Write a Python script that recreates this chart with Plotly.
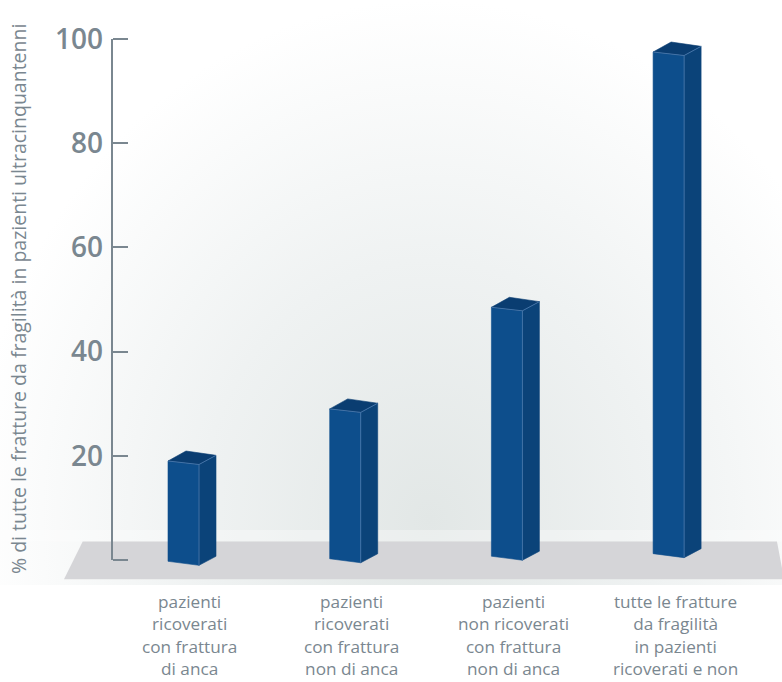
import numpy as np
import plotly.graph_objects as go

# ---- data ----
categories = [
    ["pazienti", "ricoverati", "con frattura", "di anca"],
    ["pazienti", "ricoverati", "con frattura", "non di anca"],
    ["pazienti", "non ricoverati", "con frattura", "non di anca"],
    ["tutte le fratture", "da fragilità", "in pazienti", "ricoverati e non"],
]
values = [19, 29, 48.5, 97.5]
tick_vals = [0, 20, 40, 60, 80, 100]
tick_text = ["", "20", "40", "60", "80", "100"]
y_title = "% di tutte le fratture da fragilità in pazienti ultracinquantenni"

# ---- layout geometry (pixels) ----
W, H = 782, 682
PLOT_TOP, PLOT_BOT = 0, 585
PX_PER_UNIT = 5.21
Y0_PX = 560
X0_PX = 183.5
X_STEP = 161.7
AXIS_X_PX = 112

y_lo = -(PLOT_BOT - Y0_PX) / PX_PER_UNIT
y_hi = (Y0_PX - PLOT_TOP) / PX_PER_UNIT
x_lo = -X0_PX / X_STEP
x_hi = (W - X0_PX) / X_STEP


def px2x(px):
    return (px - X0_PX) / X_STEP


def px2y(py):
    return (Y0_PX - py) / PX_PER_UNIT


def py2paper(py):
    return (PLOT_BOT - py) / (PLOT_BOT - PLOT_TOP)


GREY = "#7a8790"
FRONT = "#0d4e8c"
SIDE = "#0b4379"
TOP = "#0a3d71"
EDGE = "#4f7fb4"
FONT = "Open Sans, sans-serif"

fig = go.Figure()

# background radial glow
t = np.linspace(0, 2 * np.pi, 120)
cxp, cyp, rx, ry = 430, 520, 460, 520
ex = px2x(cxp + rx * np.cos(t))
ey = px2y(cyp + ry * np.sin(t))
fig.add_trace(go.Scatter(
    x=ex, y=ey, mode="lines", fill="toself", line=dict(width=0),
    fillgradient=dict(type="radial", colorscale=[[0, "#e2e7e6"], [0.5, "#eff2f2"], [1, "#ffffff"]]),
    hoverinfo="skip", showlegend=False))

# soft highlight band above floor
band_x = [px2x(0), px2x(W), px2x(W), px2x(0)]
band_y = [px2y(541.5), px2y(541.5), px2y(530), px2y(530)]
fig.add_trace(go.Scatter(x=band_x, y=band_y, mode="lines", fill="toself",
                         fillcolor="rgba(255,255,255,0.3)", line=dict(width=0),
                         hoverinfo="skip", showlegend=False))

# floor
floor_x = [px2x(82.7), px2x(777), px2x(784), px2x(64)]
floor_y = [px2y(541.5), px2y(541.5), px2y(579.3), px2y(579.3)]
fig.add_trace(go.Scatter(x=floor_x, y=floor_y, mode="lines", fill="toself",
                         fillcolor="#d5d5d8", line=dict(width=0),
                         hoverinfo="skip", showlegend=False))

# 3D bars
hw = 15.5 / X_STEP
dx = 17 / X_STEP
bdx = 18 / X_STEP
for i, v in enumerate(values):
    b = -0.25 + 0.49 * i
    xl, xr, xs = i - hw, i + hw, i + hw + dx
    front = ([xl, xr, xr, xl, xl], [v, v - 0.67, b - 0.77, b, v])
    side = ([xr, xs, xs, xr, xr], [v - 0.67, v + 1.09, b + 0.96, b - 0.77, v - 0.67])
    top = ([xl, xr, xs, xl + bdx, xl], [v, v - 0.67, v + 1.09, v + 1.92, v])
    for (px, py), col in ((front, FRONT), (side, SIDE), (top, TOP)):
        fig.add_trace(go.Scatter(x=px, y=py, mode="lines", fill="toself",
                                 fillcolor=col, line=dict(width=0.6, color=col),
                                 hoverinfo="skip", showlegend=False))
    fig.add_trace(go.Scatter(x=[xl, xr, xs], y=[v, v - 0.67, v + 1.09], mode="lines",
                             line=dict(width=0.8, color=EDGE), hoverinfo="skip", showlegend=False))
    fig.add_trace(go.Scatter(x=[xr, xr], y=[v - 0.67, b - 0.77], mode="lines",
                             line=dict(width=0.8, color=EDGE), hoverinfo="skip", showlegend=False))

# category labels
annotations = []
for i, lines in enumerate(categories):
    annotations.append(dict(x=i + 0.04, y=py2paper(588), xref="x", yref="paper",
                            text="<br>".join(lines), showarrow=False,
                            xanchor="center", yanchor="top", align="center",
                            font=dict(size=17.2, color=GREY, family=FONT)))
annotations.append(dict(x=18 / W, y=py2paper(299), xref="paper", yref="paper",
                        text=y_title, textangle=-90, showarrow=False,
                        xanchor="center", yanchor="middle",
                        font=dict(size=19.5, color=GREY, family=FONT)))

fig.update_layout(
    width=W, height=H,
    margin=dict(l=0, r=0, t=PLOT_TOP, b=H - PLOT_BOT),
    paper_bgcolor="white", plot_bgcolor="rgba(0,0,0,0)",
    font=dict(family=FONT, color=GREY),
    showlegend=False,
    xaxis=dict(range=[x_lo, x_hi], visible=False, fixedrange=True),
    yaxis=dict(range=[y_lo, y_hi], anchor="free", position=AXIS_X_PX / W,
               tickvals=tick_vals, ticktext=tick_text, ticks="inside",
               ticklen=15, tickwidth=2, tickcolor=GREY,
               tickfont=dict(size=28, color=GREY, family=FONT, weight=600),
               ticklabelstandoff=9,
               showgrid=False, zeroline=False, showline=False, fixedrange=True),
    annotations=annotations,
    shapes=[dict(type="line", xref="paper", yref="y", x0=AXIS_X_PX / W, x1=AXIS_X_PX / W,
                 y0=0, y1=100, line=dict(color=GREY, width=2))],
)

fig.write_html("out.html")
